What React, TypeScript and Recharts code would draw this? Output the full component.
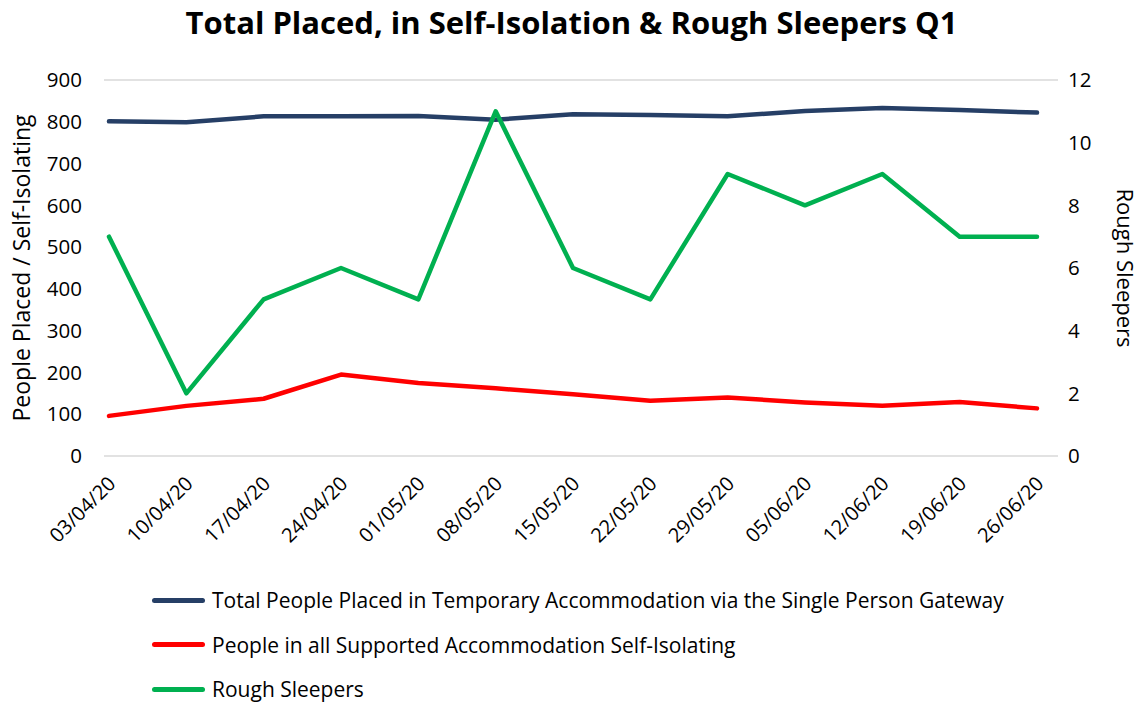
import { LineChart, Line, XAxis, YAxis, CartesianGrid, Legend } from "recharts"

const weeks = [
  "03/04/20", "10/04/20", "17/04/20", "24/04/20", "01/05/20", "08/05/20", "15/05/20",
  "22/05/20", "29/05/20", "05/06/20", "12/06/20", "19/06/20", "26/06/20",
]
const totalPlaced = [801, 799, 813, 813, 814, 805, 818, 816, 813, 826, 833, 828, 822]
const selfIsolating = [96, 120, 137, 195, 175, 162, 148, 132, 140, 128, 120, 129, 114]
const roughSleepers = [7, 2, 5, 6, 5, 11, 6, 5, 9, 8, 9, 7, 7]

const leftTicks = [0, 100, 200, 300, 400, 500, 600, 700, 800, 900]
const rightTicks = [0, 2, 4, 6, 8, 10, 12]

const SERIES = [
  { key: "total", name: "Total People Placed in Temporary Accommodation via the Single Person Gateway", color: "#263F66", axis: "left" },
  { key: "iso", name: "People in all Supported Accommodation Self-Isolating", color: "#FF0000", axis: "left" },
  { key: "rough", name: "Rough Sleepers", color: "#00B050", axis: "right" },
]

const data = weeks.map((w, i) => ({
  week: w,
  total: totalPlaced[i],
  iso: selfIsolating[i],
  rough: roughSleepers[i],
}))

const FONT = "'Open Sans', Lato, sans-serif"

const DateTick = (props: any) => {
  const { x, y, payload } = props
  const ax = x - 4
  const ay = y + 9
  return (
    <text
      x={ax}
      y={ay}
      transform={`rotate(-45, ${ax}, ${ay})`}
      textAnchor="end"
      dominantBaseline="hanging"
      fontSize={20}
      fontFamily={FONT}
      fill="#000"
    >
      {payload.value}
    </text>
  )
}

const LegendList = () => (
  <div style={{ fontFamily: FONT, fontSize: 21, color: "#000" }}>
    {SERIES.map((s) => (
      <div key={s.key} style={{ display: "flex", alignItems: "center", height: 44.5 }}>
        <div style={{ width: 53, height: 5, borderRadius: 3, background: s.color, marginRight: 7 }} />
        <span>{s.name}</span>
      </div>
    ))}
  </div>
)

const App = () => {
  return (
    <div style={{ position: "absolute", left: 0, top: 0, width: 1143, height: 702, background: "#fff" }}>
      <div
        style={{
          position: "absolute",
          top: 1,
          left: 0,
          width: 1143,
          textAlign: "center",
          fontFamily: FONT,
          fontWeight: 700,
          fontSize: 31,
          color: "#000",
        }}
      >
        Total Placed, in Self-Isolation &amp; Rough Sleepers Q1
      </div>
      <LineChart
        width={1143}
        height={702}
        data={data}
        margin={{ top: 80, right: 0, bottom: 156, left: 0 }}
      >
        <CartesianGrid vertical={false} stroke="#D9D9D9" strokeWidth={1.5} />
        <XAxis
          dataKey="week"
          height={90}
          interval={0}
          tick={<DateTick />}
          tickLine={false}
          axisLine={false}
          padding={{ left: 5, right: 21 }}
        />
        <YAxis
          yAxisId="left"
          width={104}
          domain={[0, 900]}
          ticks={leftTicks}
          tickSize={0}
          tickMargin={22}
          tickLine={false}
          axisLine={false}
          tick={{ fontSize: 20.5, fontFamily: FONT, fill: "#000" }}
          label={{
            value: "People Placed / Self-Isolating",
            angle: -90,
            position: "center",
            dx: -30,
            style: { fontSize: 23, fontFamily: FONT, fill: "#000", textAnchor: "middle" },
          }}
        />
        <YAxis
          yAxisId="right"
          orientation="right"
          width={85}
          domain={[0, 12]}
          ticks={rightTicks}
          tickSize={0}
          tickMargin={10}
          tickLine={false}
          axisLine={false}
          tick={{ fontSize: 20.5, fontFamily: FONT, fill: "#000", textAnchor: "start" }}
          label={{
            value: "Rough Sleepers",
            angle: 90,
            position: "center",
            dx: 24,
            style: { fontSize: 22, fontFamily: FONT, fill: "#000", textAnchor: "middle" },
          }}
        />
        {SERIES.map((s) => (
          <Line
            key={s.key}
            yAxisId={s.axis}
            dataKey={s.key}
            name={s.name}
            stroke={s.color}
            strokeWidth={4.5}
            strokeLinecap="round"
            strokeLinejoin="round"
            dot={false}
            activeDot={false}
            isAnimationActive={false}
          />
        ))}
        <Legend
          layout="horizontal"
          verticalAlign="middle"
          align="center"
          content={<LegendList />}
          wrapperStyle={{ top: 578, left: 152, width: "auto", height: "auto" }}
        />
      </LineChart>
    </div>
  )
}

export default App
